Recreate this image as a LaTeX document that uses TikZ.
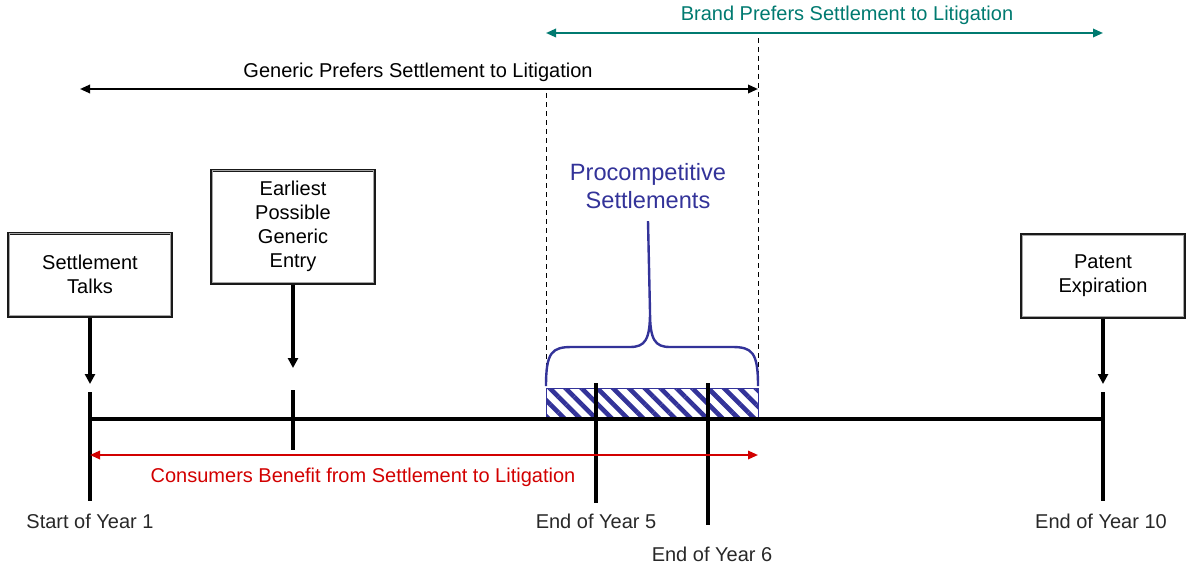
\documentclass[tikz,border=0pt]{standalone}
\usepackage{fontspec}
\setmainfont{Liberation Sans}
\usetikzlibrary{arrows.meta,patterns.meta}

\definecolor{brandteal}{RGB}{0,122,112}
\definecolor{consred}{RGB}{210,0,0}
\definecolor{procoblue}{RGB}{51,51,153}
\definecolor{labelgray}{RGB}{40,40,40}

\begin{document}
\begin{tikzpicture}[x=0.5pt,y=-0.5pt,
		event/.style={draw=black!90,line width=1.5pt,fill=white,align=center,
			minimum width=81.5pt,minimum height=41.5pt,inner sep=2pt},
		bevel/.style={draw=black!35,line width=0.4pt},
		drop/.style={-{Triangle[length=5pt,width=5pt]},line width=1.7pt},
		span/.style={{Triangle[length=5pt,width=4.2pt]}-{Triangle[length=5pt,width=4.2pt]},line width=1pt},
		tick/.style={line width=2pt},
		guide/.style={dashed,dash pattern=on 2.5pt off 2pt,line width=0.5pt},
		tlabel/.style={text=labelgray}]
		\useasboundingbox (0,0) rectangle (1186,567);
		\fontsize{10}{12}\selectfont
		% event boxes
		\node[event] (talks) at (90,274.5) {Settlement\\Talks};
		\node[event,minimum height=56.5pt] (entry) at (293,226.5) {Earliest\\Possible\\Generic\\Entry};
		\node[event] (expiry) at (1103,276) {Patent\\Expiration};
		\foreach \b in {talks,entry,expiry}
			\draw[bevel] ([shift={(1.1pt,-1.1pt)}]\b.north west) rectangle ([shift={(-1.1pt,1.1pt)}]\b.south east);
		% timeline and ticks
		\coordinate (tl0) at (90,419);
		\coordinate (tl1) at (1103,419);
		\coordinate (y1top) at (90,392);   \coordinate (y1bot) at (90,501);
		\coordinate (entop) at (293,390);  \coordinate (enbot) at (293,450);
		\coordinate (y5top) at (596,383);  \coordinate (y5bot) at (596,503);
		\coordinate (y6top) at (708,383);  \coordinate (y6bot) at (708,525);
		\coordinate (y10top) at (1103,392); \coordinate (y10bot) at (1103,501);
		% procompetitive band
		\coordinate (bandA) at (546,388);
		\coordinate (bandB) at (758,419);
		\fill[white] (bandA) rectangle (bandB);
		\path[pattern={Lines[angle=-45,distance=5.6pt,line width=2.3pt]},pattern color=procoblue] (bandA) rectangle (bandB);
		\draw[procoblue,line width=0.5pt] (bandA) rectangle (bandB);
		\draw[line width=2.3pt] (tl0) -- (tl1);
		\draw[tick] (y1top) -- (y1bot);
		\draw[tick] (entop) -- (enbot);
		\draw[tick,line width=1.6pt] (y5top) -- (y5bot);
		\draw[tick,line width=1.6pt] (y6top) -- (y6bot);
		\draw[tick] (y10top) -- (y10bot);
		% arrows from the boxes
		\coordinate (talkstip) at (90,384);
		\coordinate (entrytip) at (293,368);
		\coordinate (expirytip) at (1103,384);
		\draw[drop] (talks.south) -- (talkstip);
		\draw[drop] (entry.south) -- (entrytip);
		\draw[drop] (expiry.south) -- (expirytip);
		% year labels
		\node[tlabel] (ly1) at (90,521) {Start of Year 1};
		\node[tlabel] (ly5) at (596,521) {End of Year 5};
		\node[tlabel] (ly6) at (712,554) {End of Year 6};
		\node[tlabel] (ly10) at (1101,521) {End of Year 10};
		% preference ranges
		\coordinate (brandL) at (546,33);   \coordinate (brandR) at (1103,33);
		\coordinate (genL) at (80,89);      \coordinate (genR) at (758,89);
		\coordinate (consL) at (90,455);    \coordinate (consR) at (758,455);
		\draw[span,brandteal] (brandL) -- (brandR);
		\draw[span] (genL) -- (genR);
		\draw[span,consred] (consL) -- (consR);
		\node[text=brandteal] (brandtxt) at (847,15) {Brand Prefers Settlement to Litigation};
		\node (gentxt) at (418,72) {Generic Prefers Settlement to Litigation};
		\node[text=consred] (constxt) at (363,477) {Consumers Benefit from Settlement to Litigation};
		% dashed guides
		\coordinate (dashLtop) at (546,93);  \coordinate (dashLbot) at (546,386);
		\coordinate (dashRtop) at (758,38);  \coordinate (dashRbot) at (758,386);
		\draw[guide] (dashLtop) -- (dashLbot);
		\draw[guide] (dashRtop) -- (dashRbot);
		% brace and its label
		\node[text=procoblue,align=center,font=\fontsize{11.8}{14}\selectfont,inner sep=1pt] (proco) at (648,186) {Procompetitive\\Settlements};
		\coordinate (bracetip) at (650,312);
		\draw[procoblue,line width=1.2pt] (546,386) .. controls (546,352) and (552,347) .. (572,347) -- (630,347)
			.. controls (645,347) and (650,340) .. (bracetip)
			.. controls (650,340) and (655,347) .. (670,347) -- (732,347)
			.. controls (752,347) and (758,352) .. (758,386);
		\draw[procoblue,line width=1.2pt] (bracetip) -- ([yshift=-5pt]proco.south);
\end{tikzpicture}
\end{document}
